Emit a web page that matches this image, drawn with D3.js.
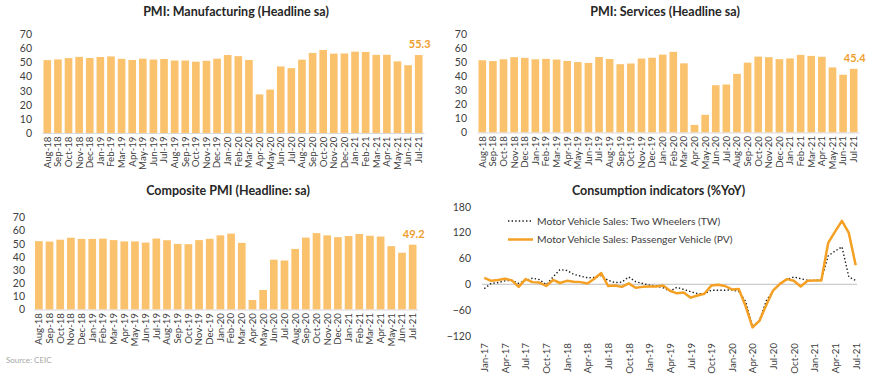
<!DOCTYPE html>
<html><head><meta charset="utf-8">
<script src="https://cdn.jsdelivr.net/npm/d3@7"></script>
<style>
body{margin:0;background:#fff;}
svg{display:block;font-family:Lato,"Open Sans",sans-serif;}
</style></head><body>
<svg id="c" width="870" height="386"></svg>
<script>
const pmiMonths = ["Aug-18","Sep-18","Oct-18","Nov-18","Dec-18","Jan-19","Feb-19","Mar-19","Apr-19","May-19","Jun-19","Jul-19","Aug-19","Sep-19","Oct-19","Nov-19","Dec-19","Jan-20","Feb-20","Mar-20","Apr-20","May-20","Jun-20","Jul-20","Aug-20","Sep-20","Oct-20","Nov-20","Dec-20","Jan-21","Feb-21","Mar-21","Apr-21","May-21","Jun-21","Jul-21"];
const manufacturing = [51.7,52.2,53.1,54.0,53.2,53.9,54.3,52.6,51.8,52.7,52.1,52.5,51.4,51.4,50.6,51.2,52.7,55.3,54.5,51.8,27.4,30.8,47.2,46.0,52.0,56.8,58.9,56.3,56.4,57.7,57.5,55.4,55.5,50.8,48.1,55.3];
const services = [51.5,50.9,52.2,53.7,53.2,52.2,52.5,52.0,51.0,50.2,49.6,53.8,52.4,48.7,49.2,52.7,53.3,55.5,57.5,49.3,5.4,12.6,33.7,34.2,41.8,49.8,54.1,53.7,52.3,52.8,55.3,54.6,54.0,46.4,41.2,45.4];
const composite = [51.9,51.6,53.0,54.5,53.6,53.6,53.8,52.7,51.7,51.7,50.8,53.9,52.6,49.8,49.6,52.7,53.7,56.3,57.6,50.6,7.2,14.8,37.8,37.2,46.0,54.6,58.0,56.3,54.9,55.8,57.3,56.0,55.4,48.1,43.1,49.2];
const pmiTicks = [0,10,20,30,40,50,60,70];

const lineMonths = ["Jan-17","Feb-17","Mar-17","Apr-17","May-17","Jun-17","Jul-17","Aug-17","Sep-17","Oct-17","Nov-17","Dec-17",
"Jan-18","Feb-18","Mar-18","Apr-18","May-18","Jun-18","Jul-18","Aug-18","Sep-18","Oct-18","Nov-18","Dec-18",
"Jan-19","Feb-19","Mar-19","Apr-19","May-19","Jun-19","Jul-19","Aug-19","Sep-19","Oct-19","Nov-19","Dec-19",
"Jan-20","Feb-20","Mar-20","Apr-20","May-20","Jun-20","Jul-20","Aug-20","Sep-20","Oct-20","Nov-20","Dec-20",
"Jan-21","Feb-21","Mar-21","Apr-21","May-21","Jun-21","Jul-21"];
const twoWheelers = [-10,2,4,8,9,2,9,14,11,-1,17,34,32,23,19,15,16,20,9,4,5,17,6,2,-2,-4,-8,-16,-7,-12,-17,-22,-22,-14,-14,-14,-13,-17,-40,-98,-84,-38,-15,2,11,17,13,9,9,10,66,77,87,17,9];
const passengerVehicles = [15,8,10,13,9,-6,12,5,4,-4,10,3,8,6,5,2,13,26,-4,-3,-6,2,-8,-6,-5,-5,-3,-15,-21,-19,-31,-26,-22,-3,-1,-4,-12,-11,-51,-100,-85,-48,-14,1,12,8,-5,8,9,9,96,122,147,119,44];
const lineTicks = [-120,-60,0,60,120,180];
const lineTickLabels = ["Jan-17","Apr-17","Jul-17","Oct-17","Jan-18","Apr-18","Jul-18","Oct-18","Jan-19","Apr-19","Jul-19","Oct-19","Jan-20","Apr-20","Jul-20","Oct-20","Jan-21","Apr-21","Jul-21"];
const legendLabels = ["Motor Vehicle Sales: Two Wheelers (TW)","Motor Vehicle Sales: Passenger Vehicle (PV)"];

const BAR = "#FBC26D", LABEL = "#EE9E2E", LINE = "#F4A024", TXT = "#404040";
const svg = d3.select("#c");

function barPanel(cfg){
  const g = svg.append("g");
  const x = d3.scaleBand().domain(pmiMonths).range([cfg.x0, cfg.x1]).paddingInner(0.28).paddingOuter(0.14);
  const y = d3.scaleLinear().domain([0,70]).range([cfg.base, cfg.top]);
  g.append("text").attr("x", cfg.tx).attr("y", cfg.ty).attr("text-anchor","middle")
    .attr("font-size",12.5).attr("font-weight","bold").attr("fill","#262626").text(cfg.title);
  g.selectAll("rect").data(cfg.values).join("rect")
    .attr("x",(d,i)=>x(pmiMonths[i])).attr("width",x.bandwidth())
    .attr("y",d=>y(d)).attr("height",d=>y(0)-y(d)).attr("fill",BAR);
  const ya = g.append("g").attr("transform",`translate(${cfg.lx},0)`)
    .call(d3.axisLeft(y).tickValues(pmiTicks).tickSize(0).tickPadding(0));
  ya.select(".domain").remove();
  ya.selectAll("text").attr("font-size",10.5).attr("fill",TXT).attr("font-family","Lato");
  const xa = g.append("g").attr("transform",`translate(0,${cfg.base})`)
    .call(d3.axisBottom(x).tickSize(0).tickPadding(0));
  xa.select(".domain").attr("stroke","#D9D9D9").attr("stroke-width",1);
  xa.selectAll("text").attr("font-size",9.7).attr("fill",TXT).attr("font-family","Lato")
    .attr("text-anchor","end").attr("dy","0.35em")
    .attr("transform","translate(0,3.5) rotate(-90)").attr("x",0).attr("y",0);
  const last = cfg.values.length-1;
  g.append("text").attr("x", x(pmiMonths[last])+x.bandwidth()/2+1).attr("y", y(cfg.values[last])-7)
    .attr("text-anchor","middle").attr("font-size",11).attr("font-weight","bold").attr("fill",LABEL)
    .text(cfg.values[last].toFixed(1));
}

barPanel({title:"PMI: Manufacturing (Headline sa)", values:manufacturing, x0:42, x1:424, base:133, top:34.3, lx:32, tx:236, ty:16});
barPanel({title:"PMI: Services (Headline sa)", values:services, x0:477, x1:859, base:132.5, top:34.3, lx:467, tx:665, ty:16});
barPanel({title:"Composite PMI (Headline: sa)", values:composite, x0:33.5, x1:418, base:309.5, top:217.3, lx:25, tx:228, ty:195});

svg.append("text").attr("x",6).attr("y",363).attr("font-size",8).attr("fill","#A6A6A6").text("Source: CEIC");

// Line panel
const lg = svg.append("g");
const lx = d3.scalePoint().domain(lineMonths).range([484.3, 855.7]);
const ly = d3.scaleLinear().domain([-120,180]).range([336, 206.7]);
lg.append("text").attr("x",658.5).attr("y",195).attr("text-anchor","middle")
  .attr("font-size",12.5).attr("font-weight","bold").attr("fill","#262626").text("Consumption indicators (%YoY)");
const lya = lg.append("g").attr("transform","translate(471,0)")
  .call(d3.axisLeft(ly).tickValues(lineTicks).tickSize(0).tickPadding(0));
lya.select(".domain").remove();
lya.selectAll("text").attr("font-size",10.5).attr("fill",TXT).attr("font-family","Lato");
lg.append("line").attr("x1",482).attr("x2",857).attr("y1",ly(0)).attr("y2",ly(0))
  .attr("stroke","#BFBFBF").attr("stroke-width",1);
const lxa = lg.append("g").attr("transform","translate(0,340)")
  .call(d3.axisBottom(lx).tickValues(lineTickLabels).tickSize(0).tickPadding(0));
lxa.select(".domain").remove();
lxa.selectAll("text").attr("font-size",9.7).attr("fill",TXT).attr("font-family","Lato")
  .attr("text-anchor","end").attr("dy","0.35em")
  .attr("transform","translate(0,3) rotate(-90)").attr("x",0).attr("y",0);
const lineGen = vals => d3.line().x((d,i)=>lx(lineMonths[i])).y(d=>ly(d))(vals);
lg.append("path").attr("d",lineGen(twoWheelers)).attr("fill","none")
  .attr("stroke","#1a1a1a").attr("stroke-width",1.4).attr("stroke-dasharray","1.4,2.2");
lg.append("path").attr("d",lineGen(passengerVehicles)).attr("fill","none")
  .attr("stroke",LINE).attr("stroke-width",2.5).attr("stroke-linejoin","round");
// legend
lg.append("line").attr("x1",508).attr("x2",532).attr("y1",221).attr("y2",221)
  .attr("stroke","#1a1a1a").attr("stroke-width",1.4).attr("stroke-dasharray","1.4,2.2");
lg.append("line").attr("x1",508).attr("x2",533).attr("y1",239.5).attr("y2",239.5)
  .attr("stroke",LINE).attr("stroke-width",2.5);
lg.selectAll("text.leg").data(legendLabels).join("text").attr("class","leg")
  .attr("x",537).attr("y",(d,i)=>221+i*18.5).attr("dy","0.35em")
  .attr("font-size",10.3).attr("fill",TXT).text(d=>d);
</script></body></html>
